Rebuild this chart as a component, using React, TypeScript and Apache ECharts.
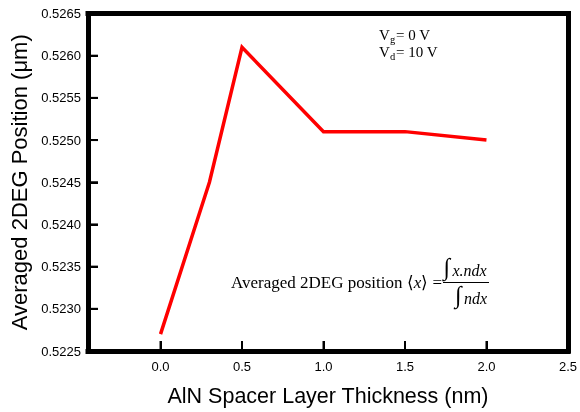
import React, { useEffect, useRef } from "react";
import * as echarts from "echarts";

const thickness = [0.0, 0.3, 0.5, 1.0, 1.5, 2.0];
const position = [0.5227, 0.5245, 0.5261, 0.5251, 0.5251, 0.525];
const xLabelValues = [0, 0.5, 1.0, 1.5, 2.0, 2.5];
const xTickValues = [0, 0.5, 1.0, 1.5, 2.0];
const yTickValues = [0.5225, 0.523, 0.5235, 0.524, 0.5245, 0.525, 0.5255, 0.526, 0.5265];
const yInnerTicks = [0.523, 0.5235, 0.524, 0.5245, 0.525, 0.5255, 0.526];

const SANS = '"Liberation Sans", Arial, Helvetica, sans-serif';
const SERIF = '"Liberation Serif", "Times New Roman", serif';

const X_MIN = -0.445;
const X_MAX = 2.5;
const Y_MIN = 0.5225;
const Y_MAX = 0.5265;

export default function App() {
  const ref = useRef<HTMLDivElement>(null);
  useEffect(() => {
    if (!ref.current) return;
    const chart = echarts.init(ref.current, undefined, { renderer: "svg" });
    const txt = (x: number, y: number, text: string, size: number, extra: any = {}) => ({
      type: "text",
      x,
      y,
      style: {
        text,
        fontSize: size,
        fontFamily: SERIF,
        fill: "#000",
        align: "left",
        verticalAlign: "middle",
        ...extra,
      },
    });
    const frameLine = { show: true, onZero: false, lineStyle: { color: "#000", width: 5, cap: "square" } };
    const tick = { show: true, inside: true, length: 10, lineStyle: { width: 2, color: "#000" } };
    const bare = {
      axisTick: { show: false },
      axisLabel: { show: false },
      splitLine: { show: false },
    };
    const tickData = [
      ...xTickValues.map((v) => [v, Y_MIN, 0]),
      ...yInnerTicks.map((v) => [X_MIN, v, 1]),
    ];
    chart.setOption({
      animation: false,
      grid: {
        left: 88,
        right: 8.5,
        top: 13.5,
        bottom: 60,
        show: false,
      },
      xAxis: [
        {
          type: "value",
          position: "bottom",
          min: X_MIN,
          max: X_MAX,
          name: "AlN Spacer Layer Thickness (nm)",
          nameLocation: "middle",
          nameGap: 34,
          nameTextStyle: { fontSize: 21.5, fontFamily: SANS, color: "#000" },
          axisLine: frameLine,
          splitLine: { show: false },
          axisTick: { ...tick, customValues: xTickValues },
          axisLabel: {
            customValues: xLabelValues,
            formatter: (v: number) => v.toFixed(1),
            fontSize: 13,
            fontFamily: SANS,
            color: "#000",
            margin: 9,
          },
        },
        { type: "value", position: "top", min: X_MIN, max: X_MAX, axisLine: frameLine, ...bare },
      ],
      yAxis: [
        {
          type: "value",
          position: "left",
          min: Y_MIN,
          max: Y_MAX,
          name: "Averaged 2DEG Position (\u03bcm)",
          nameLocation: "middle",
          nameGap: 55,
          nameTextStyle: { fontSize: 22, fontFamily: SANS, color: "#000" },
          axisLine: frameLine,
          splitLine: { show: false },
          axisTick: { ...tick, customValues: yInnerTicks },
          axisLabel: {
            customValues: yTickValues,
            formatter: (v: number) => v.toFixed(4),
            fontSize: 13,
            fontFamily: SANS,
            color: "#000",
            margin: 7,
          },
        },
        { type: "value", position: "right", min: Y_MIN, max: Y_MAX, axisLine: frameLine, ...bare },
      ],
      series: [
        {
          type: "line",
          xAxisIndex: 0,
          yAxisIndex: 0,
          data: thickness.map((t, i) => [t, position[i]]),
          showSymbol: false,
          symbol: "none",
          lineStyle: { color: "#ff0000", width: 3.5, join: "miter" },
        },
        {
          type: "custom",
          xAxisIndex: 0,
          yAxisIndex: 0,
          silent: true,
          clip: false,
          z: 10,
          encode: { x: 0, y: 1 },
          data: tickData,
          renderItem: (_params: any, api: any) => {
            const p = api.coord([api.value(0), api.value(1)]);
            const vertical = api.value(2) === 0;
            return {
              type: "line",
              shape: {
                x1: p[0],
                y1: p[1],
                x2: vertical ? p[0] : p[0] + 10,
                y2: vertical ? p[1] - 10 : p[1],
              },
              style: { stroke: "#000", lineWidth: 2 },
            };
          },
        },
      ],
      graphic: [
        txt(379, 35, "V", 15),
        txt(390, 39.5, "g", 10.5),
        txt(396, 35, "= 0 V", 15),
        txt(379, 52, "V", 15),
        txt(390, 56.5, "d", 10.5),
        txt(396, 52, "= 10 V", 15),
        {
          type: "text",
          x: 231,
          y: 282,
          style: {
            text: "Averaged 2DEG position \u27e8{i|x}\u27e9 =",
            fontSize: 17,
            fontFamily: SERIF,
            fill: "#000",
            align: "left",
            verticalAlign: "middle",
            rich: { i: { fontStyle: "italic", fontSize: 17, fontFamily: SERIF } },
          },
        },
        {
          type: "line",
          shape: { x1: 443, y1: 282.5, x2: 489, y2: 282.5 },
          style: { stroke: "#000", lineWidth: 1 },
        },
        txt(443.5, 267, "\u222b", 24),
        txt(452.5, 270, "x.ndx", 16, { fontStyle: "italic" }),
        txt(455, 295, "\u222b", 24),
        txt(464, 298, "ndx", 16, { fontStyle: "italic" }),
      ],
    });
    return () => chart.dispose();
  }, []);
  return (
    <div
      ref={ref}
      style={{ position: "fixed", left: 0, top: 0, width: 580, height: 412 }}
    />
  );
}
